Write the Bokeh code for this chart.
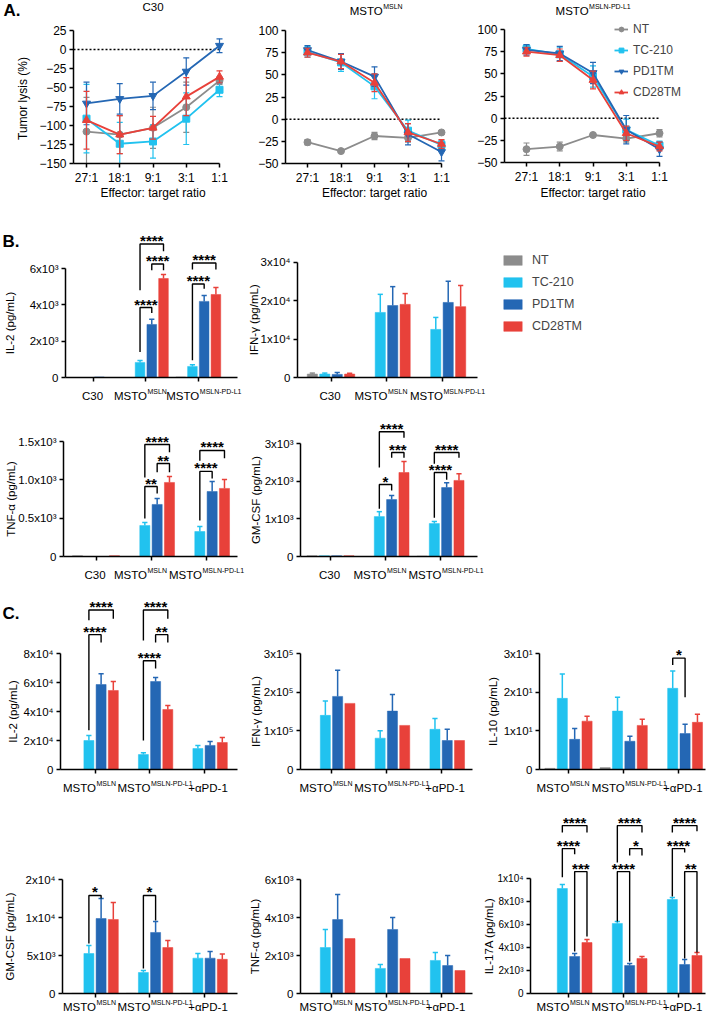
import math
from bokeh.plotting import figure
from bokeh.models import Range1d, FixedTicker, Legend, LegendItem
from bokeh.layouts import column, row
from bokeh.embed import file_html
from bokeh.resources import INLINE
from bokeh.core.properties import value

FONT = "Liberation Sans"
SERIES = ["NT", "TC-210", "PD1TM", "CD28TM"]
COLORS = ["#8c8c8c", "#21c2ef", "#2467b4", "#e8413a"]
MARKERS = ["circle", "square", "inverted_triangle", "triangle"]

# ---------------- Panel A data (tumor lysis %) ----------------
RATIOS = ["27:1", "18:1", "9:1", "3:1", "1:1"]
A_C30_MEAN = [[-108, -112, -103, -76, -41], [-91, -124, -121, -91, -53],
              [-71, -65, -61, -29, 5], [-93, -112, -103, -62, -36]]
A_C30_ERR = [[45, 25, 27, 33, 5], [45, 28, 22, 34, 9],
             [28, 20, 18, 18, 9], [38, 25, 15, 25, 8]]
A_MSLN_MEAN = [[-26, -36, -19, -21, -15], [76, 64, 37, -13, -29],
               [78, 65, 48, -17, -37], [75, 65, 41, -15, -28]]
A_MSLN_ERR = [[3, 1, 4, 5, 2], [6, 10, 14, 12, 5], [5, 9, 11, 12, 10], [5, 8, 10, 10, 5]]
A_PDL1_MEAN = [[-35, -32, -19, -23, -17], [78, 72, 47, -13, -31],
               [77, 73, 51, -13, -35], [75, 71, 43, -17, -32]]
A_PDL1_ERR = [[7, 5, 2, 4, 4], [5, 8, 12, 12, 5], [6, 8, 12, 16, 8], [5, 7, 10, 8, 5]]

# ---------------- Panel B data (groups C30, MSLN, MSLN-PD-L1) ----------------
B_CATS = [("C30", ""), ("MSTO", "MSLN"), ("MSTO", "MSLN-PD-L1")]
B_IL2_MEAN = [[0, 0, 30], [0, 830, 610], [30, 2920, 4190], [0, 5450, 4570]]
B_IL2_ERR = [[0, 0, 0], [0, 110, 90], [0, 280, 330], [0, 220, 390]]
B_IL2_SIG = [(1, 1, 3, 7350, 4800, 6950, "****"), (1, 2, 3, 6250, 5900, 5900, "****"),
             (1, 1, 2, 3850, 1400, 3550, "****"), (2, 1, 3, 6300, 5950, 5950, "****"),
             (2, 1, 2, 5150, 950, 4880, "****")]
B_IFN_MEAN = [[900, 0, 0], [900, 16900, 12500], [800, 18700, 19500], [900, 19000, 18400]]
B_IFN_ERR = [[250, 0, 0], [250, 4700, 3100], [500, 4900, 5500], [200, 2800, 5500]]
B_TNF_MEAN = [[10, 0, 0], [0, 405, 326], [0, 679, 848], [10, 966, 888]]
B_TNF_ERR = [[0, 0, 0], [0, 39, 66], [0, 78, 131], [0, 78, 117]]
B_TNF_SIG = [(1, 1, 3, 1460, 1030, 1360, "****"), (1, 2, 3, 1213, 1100, 1100, "**"),
             (1, 1, 2, 913, 496, 822, "**"), (2, 1, 3, 1383, 1250, 1280, "****"),
             (2, 1, 2, 1110, 470, 1018, "****")]
B_GM_MEAN = [[20, 0, 10], [20, 1060, 875], [20, 1510, 1830], [20, 2230, 2020]]
B_GM_ERR = [[0, 0, 0], [0, 130, 55], [0, 110, 130], [0, 290, 180]]
B_GM_SIG = [(1, 1, 3, 3310, 2360, 3150, "****"), (1, 2, 3, 2760, 2620, 2620, "***"),
            (1, 1, 2, 1910, 1270, 1750, "*"), (2, 1, 3, 2760, 2460, 2620, "****"),
            (2, 1, 2, 2230, 1030, 2040, "****")]

# ---------------- Panel C data (groups MSLN, MSLN-PD-L1, +aPD-1) ----------------
C_CATS = [("MSTO", "MSLN"), ("MSTO", "MSLN-PD-L1"), ("+αPD-1", "")]
C_IL2_MEAN = [[0, 0, 0], [20000, 10300, 14500], [58600, 60700, 16600], [54500, 41400, 18600]]
C_IL2_ERR = [[0, 0, 0], [3400, 1200, 2100], [7400, 2700, 2700], [6200, 2700, 3400]]
C_IL2_SIG = [(0, 1, 3, 110000, 103000, 104000, "****"), (0, 1, 2, 93000, 27000, 87600, "****"),
             (1, 1, 3, 110000, 89000, 104000, "****"), (1, 2, 3, 93000, 87600, 87600, "**"),
             (1, 1, 2, 75000, 20000, 69700, "****")]
C_IFN_MEAN = [[0, 0, 0], [140000, 81000, 104000], [189000, 151000, 75000], [171000, 114000, 75000]]
C_IFN_ERR = [[0, 0, 0], [37000, 19000, 28000], [68000, 43000, 29000], [0, 0, 0]]
C_IL10_MEAN = [[0.3, 0.5, 0], [18.4, 15.1, 21.0], [7.8, 7.3, 9.3], [12.5, 11.4, 12.2]]
C_IL10_ERR = [[0, 0, 0], [6.3, 3.6, 4.5], [2.8, 1.3, 2.4], [1.3, 1.6, 2.1]]
C_IL10_SIG = [(2, 1, 2, 28.8, 27.0, 18.7, "*")]
C_GM_MEAN = [[30, 30, 30], [5260, 2760, 4650], [9870, 8030, 4650], [9740, 6050, 4500]]
C_GM_ERR = [[0, 0, 0], [1040, 270, 610], [2630, 1440, 880], [2230, 920, 700]]
C_GM_SIG = [(0, 1, 2, 12900, 6580, 12500, "*"), (1, 1, 2, 12900, 3290, 9600, "*")]
C_TNF_MEAN = [[0, 0, 0], [2420, 1320, 1740], [3890, 3370, 1470], [2890, 1840, 1210]]
C_TNF_ERR = [[0, 0, 0], [950, 210, 420], [1320, 630, 530], [0, 0, 0]]
C_IL17_MEAN = [[0, 0, 0], [9130, 6090, 8170], [3220, 2430, 2520], [4430, 3040, 3300]]
C_IL17_ERR = [[0, 0, 0], [350, 170, 180], [260, 180, 440], [270, 180, 270]]
C_IL17_SIG = [(0, 1, 3, 14600, 14000, 14000, "****"), (0, 1, 2, 12600, 10100, 12100, "****"),
              (0, 2, 3, 10600, 3650, 4960, "***"), (1, 1, 3, 14600, 11400, 14000, "****"),
              (1, 2, 3, 12600, 12000, 12000, "*"), (1, 1, 2, 10600, 6260, 2780, "****"),
              (2, 1, 3, 14600, 14000, 14100, "****"), (2, 1, 2, 12600, 8440, 12270, "****"),
              (2, 2, 3, 10600, 3050, 3570, "**")]


class Map:
    """Linear page-pixel <-> data mapping of one figure (frame == whole figure)."""

    def __init__(self, outer, xa, xb, ya, yb):
        self.outer = outer
        self.xa, self.xb, self.ya, self.yb = xa, xb, ya, yb

    def x(self, px):
        (p0, v0), (p1, v1) = self.xa, self.xb
        return v0 + (px - p0) * (v1 - v0) / (p1 - p0)

    def y(self, py):
        (p0, v0), (p1, v1) = self.ya, self.yb
        return v0 + (py - p0) * (v1 - v0) / (p1 - p0)

    def dx(self, d):
        return self.x(d) - self.x(0)

    def dy(self, d):
        return self.y(0) - self.y(d)


def base_fig(m, tick_size="12px"):
    ox0, oy0, ox1, oy1 = m.outer
    p = figure(width=ox1 - ox0, height=oy1 - oy0,
               x_range=Range1d(m.x(ox0), m.x(ox1)), y_range=Range1d(m.y(oy1), m.y(oy0)),
               output_backend="svg", toolbar_location=None, title=None,
               min_border_left=0, min_border_right=0, min_border_top=0, min_border_bottom=0)
    p.outline_line_color = None
    p.xgrid.visible = False
    p.ygrid.visible = False
    p.background_fill_color = "white"
    p.border_fill_color = "white"
    for ax in (p.xaxis[0], p.yaxis[0]):
        ax.axis_line_width = 1.5
        ax.axis_line_color = "black"
        ax.major_tick_line_width = 1.5
        ax.major_tick_line_color = "black"
        ax.major_tick_in = 0
        ax.major_tick_out = 4
        ax.minor_tick_line_color = None
        ax.major_label_text_font = FONT
        ax.major_label_text_font_size = tick_size
        ax.major_label_text_color = "black"
        ax.major_label_standoff = 3
    return p


def txt(p, m, px, py, text, size="12px", align="center", baseline="middle", angle=0.0, bold=False):
    p.text(x=[m.x(px)], y=[m.y(py)], text=[text], text_font=value(FONT), text_font_size=size,
           text_align=align, text_baseline=baseline, angle=angle,
           text_font_style="bold" if bold else "normal", text_color="black")


def sup_txt(p, m, anchor_px, cy, main, sup):
    txt(p, m, anchor_px, cy + 4, main, "11.5px", "right", "alphabetic")
    txt(p, m, anchor_px + 0.5, cy - 0.5, sup, "7px", "left", "alphabetic")


def line_panel(outer, first_px, step_px, y_ref, yticks, axis_left_px, means, errs,
               title, ylabel, legend_loc):
    m = Map(outer, (first_px, 0), (first_px + step_px, 1), y_ref[0], y_ref[1])
    p = base_fig(m)
    ybot, ytop = yticks[0], yticks[-1]
    xl = m.x(axis_left_px)
    p.xaxis.fixed_location = ybot
    p.xaxis.bounds = (xl, 4)
    p.xaxis.ticker = FixedTicker(ticks=list(range(5)))
    p.xaxis.major_label_overrides = {i: RATIOS[i] for i in range(5)}
    p.yaxis.fixed_location = xl
    p.yaxis.bounds = (ybot, ytop)
    p.yaxis.ticker = FixedTicker(ticks=yticks)
    p.segment(x0=[xl], y0=[0], x1=[4], y1=[0], line_color="black", line_width=1.5, line_dash="2 2")
    xs = list(range(5))
    cw = m.dx(3)
    items = []
    for k in range(4):
        c = COLORS[k]
        lo = [max(v - e, ybot) for v, e in zip(means[k], errs[k])]
        lo_cap = [v - e for v, e in zip(means[k], errs[k])]
        hi = [v + e for v, e in zip(means[k], errs[k])]
        p.segment(x0=xs, y0=lo, x1=xs, y1=hi, line_color=c, line_width=1.2)
        cx_ = [x for x, v in zip(xs, lo_cap) if v >= ybot]
        cy_ = [v for v in lo_cap if v >= ybot]
        p.segment(x0=[x - cw for x in cx_], y0=cy_, x1=[x + cw for x in cx_], y1=cy_, line_color=c, line_width=1.2)
        p.segment(x0=[x - cw for x in xs], y0=hi, x1=[x + cw for x in xs], y1=hi, line_color=c, line_width=1.2)
        lr = p.line(xs, means[k], line_color=c, line_width=1.8)
        sz = 8 if "triangle" in MARKERS[k] else 7
        sr = p.scatter(xs, means[k], marker=MARKERS[k], size=sz, fill_color=c, line_color=c)
        items.append(LegendItem(label=SERIES[k], renderers=[lr, sr]))
    cx = first_px + 2 * step_px
    if isinstance(title, tuple):
        main, sup = title
        w = 33.2 + len(sup) * 4.2
        sup_txt(p, m, cx - w / 2 + 33.2, 6, main, sup)
    else:
        txt(p, m, cx, 6, title, "11.5px")
    txt(p, m, cx, 192, "Effector: target ratio", "12px")
    if ylabel:
        txt(p, m, 22, 98, ylabel, "12px", angle=math.pi / 2)
    if legend_loc:
        lg = Legend(items=items, location=legend_loc, glyph_width=14, glyph_height=12, label_height=12,
                    spacing=7, padding=0, margin=0, label_standoff=5, border_line_color=None,
                    background_fill_alpha=0, label_text_font=FONT, label_text_font_size="12px")
        p.add_layout(lg)
    return p, m


def bar_panel(outer, g0, G, y0px, ytpx, axis_px, ticks, tick_labels, means, errs, sig, cats,
              ylabel, ylab_x, cat_y, lab_shift=1.0, tick_size="11.5px", legend_loc=None):
    ytval = ticks[-1]
    m = Map(outer, (g0, 0), (g0 + G, 1), (y0px, 0), (ytpx, ytval))
    p = base_fig(m, tick_size)
    bu = 0.224
    cw = m.dx(2.6)
    n = len(cats)
    bar_renderers = []
    for k in range(4):
        c = COLORS[k]
        xs = [g + (k - 1.5) * bu for g in range(n)]
        r = p.vbar(x=xs, top=means[k], bottom=0, width=0.82 * bu, fill_color=c, line_color=c, line_width=0.5)
        bar_renderers.append(r)
        ex = [x for x, e in zip(xs, errs[k]) if e > 0]
        et = [v for v, e in zip(means[k], errs[k]) if e > 0]
        eh = [v + e for v, e in zip(means[k], errs[k]) if e > 0]
        if ex:
            p.segment(x0=ex, y0=et, x1=ex, y1=eh, line_color=c, line_width=1.5)
            p.segment(x0=[x - cw for x in ex], y0=eh, x1=[x + cw for x in ex], y1=eh,
                      line_color=c, line_width=1.5)
    if sig:
        bxs, bys, tx, ty, tt = [], [], [], [], []
        lift = m.dy(3.5)
        for (g, i, j, yl, ya, yb, label) in sig:
            xi = g + (i - 1.5) * bu
            xj = g + (j - 1.5) * bu
            bxs.append([xi, xi, xj, xj])
            bys.append([ya, yl, yl, yb])
            tx.append((xi + xj) / 2)
            ty.append(yl + lift)
            tt.append(label)
        p.multi_line(bxs, bys, line_color="black", line_width=1.4)
        p.text(x=tx, y=ty, text=tt, text_align="center", text_baseline="middle",
               text_font=value(FONT), text_font_size="15px", text_font_style="bold", text_color="black")
    xl, xr = m.x(axis_px[0]), m.x(axis_px[1])
    p.xaxis.fixed_location = 0
    p.xaxis.bounds = (xl, xr)
    p.xaxis.ticker = FixedTicker(ticks=list(range(n)))
    p.xaxis.major_label_overrides = {i: "" for i in range(n)}
    p.yaxis.fixed_location = xl
    p.yaxis.ticker = FixedTicker(ticks=ticks)
    p.yaxis.major_label_overrides = dict(zip(ticks, tick_labels))
    p.yaxis.bounds = (0, ytval)
    for i, (main, sup) in enumerate(cats):
        gx = g0 + i * G
        if sup:
            sup_txt(p, m, gx + lab_shift, cat_y, main, sup)
        elif main.startswith("+"):
            txt(p, m, gx + 4, cat_y + 4, main, "11.5px", "center", "alphabetic")
        else:
            txt(p, m, gx - 1, cat_y + 4, main, "11.5px", "center", "alphabetic")
    txt(p, m, ylab_x, (y0px + ytpx) / 2, ylabel, "11.5px", angle=math.pi / 2)
    if legend_loc:
        items = [LegendItem(label=SERIES[k], renderers=[bar_renderers[k]]) for k in range(4)]
        lg = Legend(items=items, location=legend_loc, glyph_width=23, glyph_height=12, label_height=12,
                    spacing=8, padding=0, margin=0, label_standoff=8, border_line_color=None,
                    background_fill_alpha=0, label_text_font=FONT, label_text_font_size="12.5px")
        p.add_layout(lg)
    return p, m


# ---------------- Row A ----------------
a1, ma1 = line_panel((0, 0, 232, 205), 86, 33.25, ((163, -150), (30, 25)),
                     [-150, -125, -100, -75, -50, -25, 0, 25], 73, A_C30_MEAN, A_C30_ERR,
                     "C30", "Tumor lysis (%)", None)
txt(a1, ma1, 3, 10, "A.", "17px", "left", "middle", bold=True)
a2, _ = line_panel((232, 0, 470, 205), 307, 33.5, ((163, -50), (30, 100)),
                   [-50, -25, 0, 25, 50, 75, 100], 285, A_MSLN_MEAN, A_MSLN_ERR,
                   ("MSTO", "MSLN"), None, None)
a3, _ = line_panel((470, 0, 710, 205), 526, 33.25, ((162, -50), (29, 100)),
                   [-50, -25, 0, 25, 50, 75, 100], 504, A_PDL1_MEAN, A_PDL1_ERR,
                   ("MSTO", "MSLN-PD-L1"), None, (144, 106))

# ---------------- Row B1 ----------------
b1, mb1 = bar_panel((0, 205, 246, 400), 93, 52.4, 377, 268, (65, 237),
                    [0, 2000, 4000, 6000], ["0", "2x10³", "4x10³", "6x10³"],
                    B_IL2_MEAN, B_IL2_ERR, B_IL2_SIG, B_CATS, "IL-2 (pg/mL)", 9, 391)
txt(b1, mb1, 2, 241, "B.", "17px", "left", "middle", bold=True)
b2, _ = bar_panel((246, 205, 710, 400), 330.5, 55.5, 377, 261.5, (297, 477),
                  [0, 10000, 20000, 30000], ["0", "1x10⁴", "2x10⁴", "3x10⁴"],
                  B_IFN_MEAN, B_IFN_ERR, None, B_CATS, "IFN-γ (pg/mL)", 253, 391,
                  legend_loc=(501 - 246, 400 - 333))

# ---------------- Row B2 ----------------
b3, _ = bar_panel((0, 400, 246, 585), 95.5, 55, 556, 441, (63, 237),
                  [0, 500, 1000, 1500], ["0", "0.5x10³", "1.0x10³", "1.5x10³"],
                  B_TNF_MEAN, B_TNF_ERR, B_TNF_SIG, B_CATS, "TNF-α (pg/mL)", 10, 570, lab_shift=-4)
b4, _ = bar_panel((246, 400, 710, 585), 330, 55, 556, 443, (300, 477),
                  [0, 1000, 2000, 3000], ["0", "1x10³", "2x10³", "3x10³"],
                  B_GM_MEAN, B_GM_ERR, B_GM_SIG, B_CATS, "GM-CSF (pg/mL)", 255, 570)

# ---------------- Row C1 ----------------
c1, mc1 = bar_panel((0, 585, 245, 795), 94.5, 54.5, 769, 653, (60, 237),
                    [0, 20000, 40000, 60000, 80000], ["0", "2x10⁴", "4x10⁴", "6x10⁴", "8x10⁴"],
                    C_IL2_MEAN, C_IL2_ERR, C_IL2_SIG, C_CATS, "IL-2 (pg/mL)", 12, 783)
txt(c1, mc1, 2, 613, "C.", "17px", "left", "middle", bold=True)
c2, _ = bar_panel((245, 585, 480, 795), 331, 54.8, 769, 653, (300, 472),
                  [0, 100000, 200000, 300000], ["0", "1x10⁵", "2x10⁵", "3x10⁵"],
                  C_IFN_MEAN, C_IFN_ERR, None, C_CATS, "IFN-γ (pg/mL)", 255, 783)
c3, _ = bar_panel((480, 585, 710, 795), 568, 55.2, 769, 653, (539, 705),
                  [0, 10, 20, 30], ["0", "1x10¹", "2x10¹", "3x10¹"],
                  C_IL10_MEAN, C_IL10_ERR, C_IL10_SIG, C_CATS, "IL-10 (pg/mL)", 492, 783)

# ---------------- Row C2 ----------------
c4, _ = bar_panel((0, 795, 245, 1013), 94.5, 54.5, 993, 879, (62, 237),
                  [0, 5000, 10000, 15000], ["0", "5x10³", "1x10⁴", "2x10⁴"],
                  C_GM_MEAN, C_GM_ERR, C_GM_SIG, C_CATS, "GM-CSF (pg/mL)", 9, 1002)
c5, _ = bar_panel((245, 795, 480, 1013), 331, 55, 993, 879, (300, 472),
                  [0, 2000, 4000, 6000], ["0", "2x10³", "4x10³", "6x10³"],
                  C_TNF_MEAN, C_TNF_ERR, None, C_CATS, "TNF-α (pg/mL)", 254, 1002)
c6, _ = bar_panel((480, 795, 710, 1013), 568, 55, 993, 878, (530, 705),
                  [0, 2000, 4000, 6000, 8000, 10000],
                  ["0", "2x10³", "4x10³", "6x10³", "8x10³", "1x10⁴"],
                  C_IL17_MEAN, C_IL17_ERR, C_IL17_SIG, C_CATS, "IL-17A (pg/mL)", 488, 1002,
                  tick_size="10px")

layout = column(row(a1, a2, a3), row(b1, b2), row(b3, b4), row(c1, c2, c3), row(c4, c5, c6))
open("out.html", "w").write(file_html(layout, INLINE))
